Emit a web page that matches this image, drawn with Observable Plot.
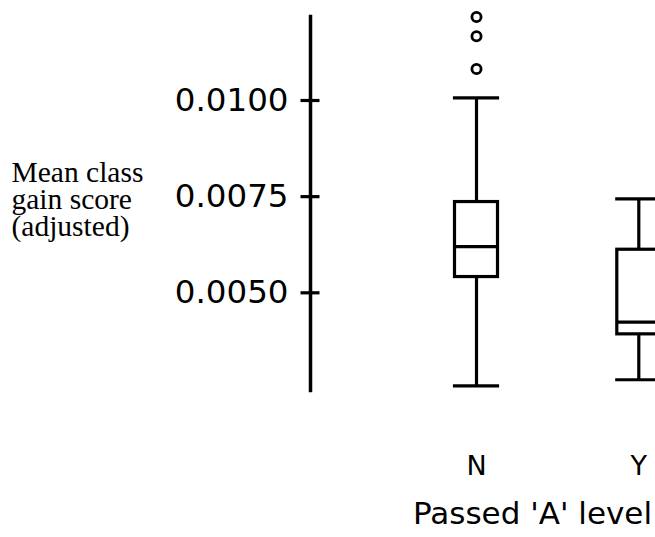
<!DOCTYPE html>
<html>
<head>
<meta charset="utf-8">
<script src="https://cdn.jsdelivr.net/npm/d3@7"></script>
<script src="https://cdn.jsdelivr.net/npm/@observablehq/plot@0.6"></script>
<style>
  html, body { margin: 0; padding: 0; background: #fff; overflow: hidden; }
  #chart svg { max-width: none !important; display: block; }
</style>
</head>
<body>
<div id="chart"></div>
<script>
// Data
const groups = ["N", "Y"];
const lowerWhisker = [0.00258, 0.00274];
const q1 = [0.00541, 0.00392];
const median = [0.00620, 0.00424];
const q3 = [0.00736, 0.00612];
const upperWhisker = [0.01007, 0.00744];
const outlierGroups = ["N", "N", "N"];
const outlierValues = [0.01082, 0.01167, 0.01217];
const yTicks = [0.0050, 0.0075, 0.0100];
const yLabel = "Mean class\ngain score\n(adjusted)";
const xLabel = "Passed 'A' level";

const boxes = groups.map((g, i) => ({
  g, lo: lowerWhisker[i], q1: q1[i], med: median[i], q3: q3[i], hi: upperWhisker[i]
}));
const outliers = outlierGroups.map((g, i) => ({g, v: outlierValues[i]}));

const sansFont = "DejaVu Sans";
const serifFont = "Liberation Serif";
const sw = 3.2;

const chart = Plot.plot({
  width: 754,
  height: 537,
  marginLeft: 310,
  marginRight: 0,
  marginTop: 16,
  marginBottom: 147,
  style: {background: "#fff", overflow: "visible"},
  x: {type: "band", domain: groups, range: [454.5, 659.8], paddingInner: 0.735, paddingOuter: 0, round: false, axis: null},
  y: {domain: [0.002460, 0.012184], axis: null},
  marks: [
    // y axis line
    Plot.frame({anchor: "left", stroke: "#000", strokeWidth: 3.5}),
    // y ticks crossing axis (no labels)
    Plot.axisY(yTicks, {tickSize: 19, dx: 9.5, stroke: "#000", strokeWidth: sw, tickFormat: () => "", label: null}),
    // y tick labels
    Plot.axisY(yTicks, {tickSize: 0, tickPadding: 22, tickFormat: d3.format(".4f"),
      fontSize: 32.5, fontFamily: sansFont, fill: "#000", label: null}),
    // x tick labels
    Plot.axisX({tickSize: 0, tickPadding: 65, fontSize: 27, fontFamily: sansFont, fill: "#000", label: null}),
    // whiskers
    Plot.ruleX(boxes, {x: "g", y1: "lo", y2: "q1", stroke: "#000", strokeWidth: sw}),
    Plot.ruleX(boxes, {x: "g", y1: "q3", y2: "hi", stroke: "#000", strokeWidth: sw}),
    // boxes
    Plot.barY(boxes, {x: "g", y1: "q1", y2: "q3", fill: "#fff", stroke: "#000", strokeWidth: sw}),
    // medians
    Plot.tickY(boxes, {x: "g", y: "med", stroke: "#000", strokeWidth: sw}),
    // whisker caps
    Plot.tickY(boxes, {x: "g", y: "lo", stroke: "#000", strokeWidth: sw, strokeLinecap: "square"}),
    Plot.tickY(boxes, {x: "g", y: "hi", stroke: "#000", strokeWidth: sw, strokeLinecap: "square"}),
    // outliers
    Plot.dot(outliers, {x: "g", y: "v", r: 4.6, stroke: "#000", strokeWidth: 2.8, fill: "none"}),
    // axis titles
    Plot.text([xLabel], {text: d => d, frameAnchor: "bottom", lineAnchor: "top", dy: 111,
      fontSize: 31, fontFamily: sansFont, fill: "#000"}),
    Plot.text([yLabel], {text: d => d, frameAnchor: "left", textAnchor: "start", lineAnchor: "middle",
      dx: -299, dy: -3, lineHeight: 0.9, fontSize: 29.5, fontFamily: serifFont, fill: "#000"})
  ]
});
document.getElementById("chart").appendChild(chart);
</script>
</body>
</html>
